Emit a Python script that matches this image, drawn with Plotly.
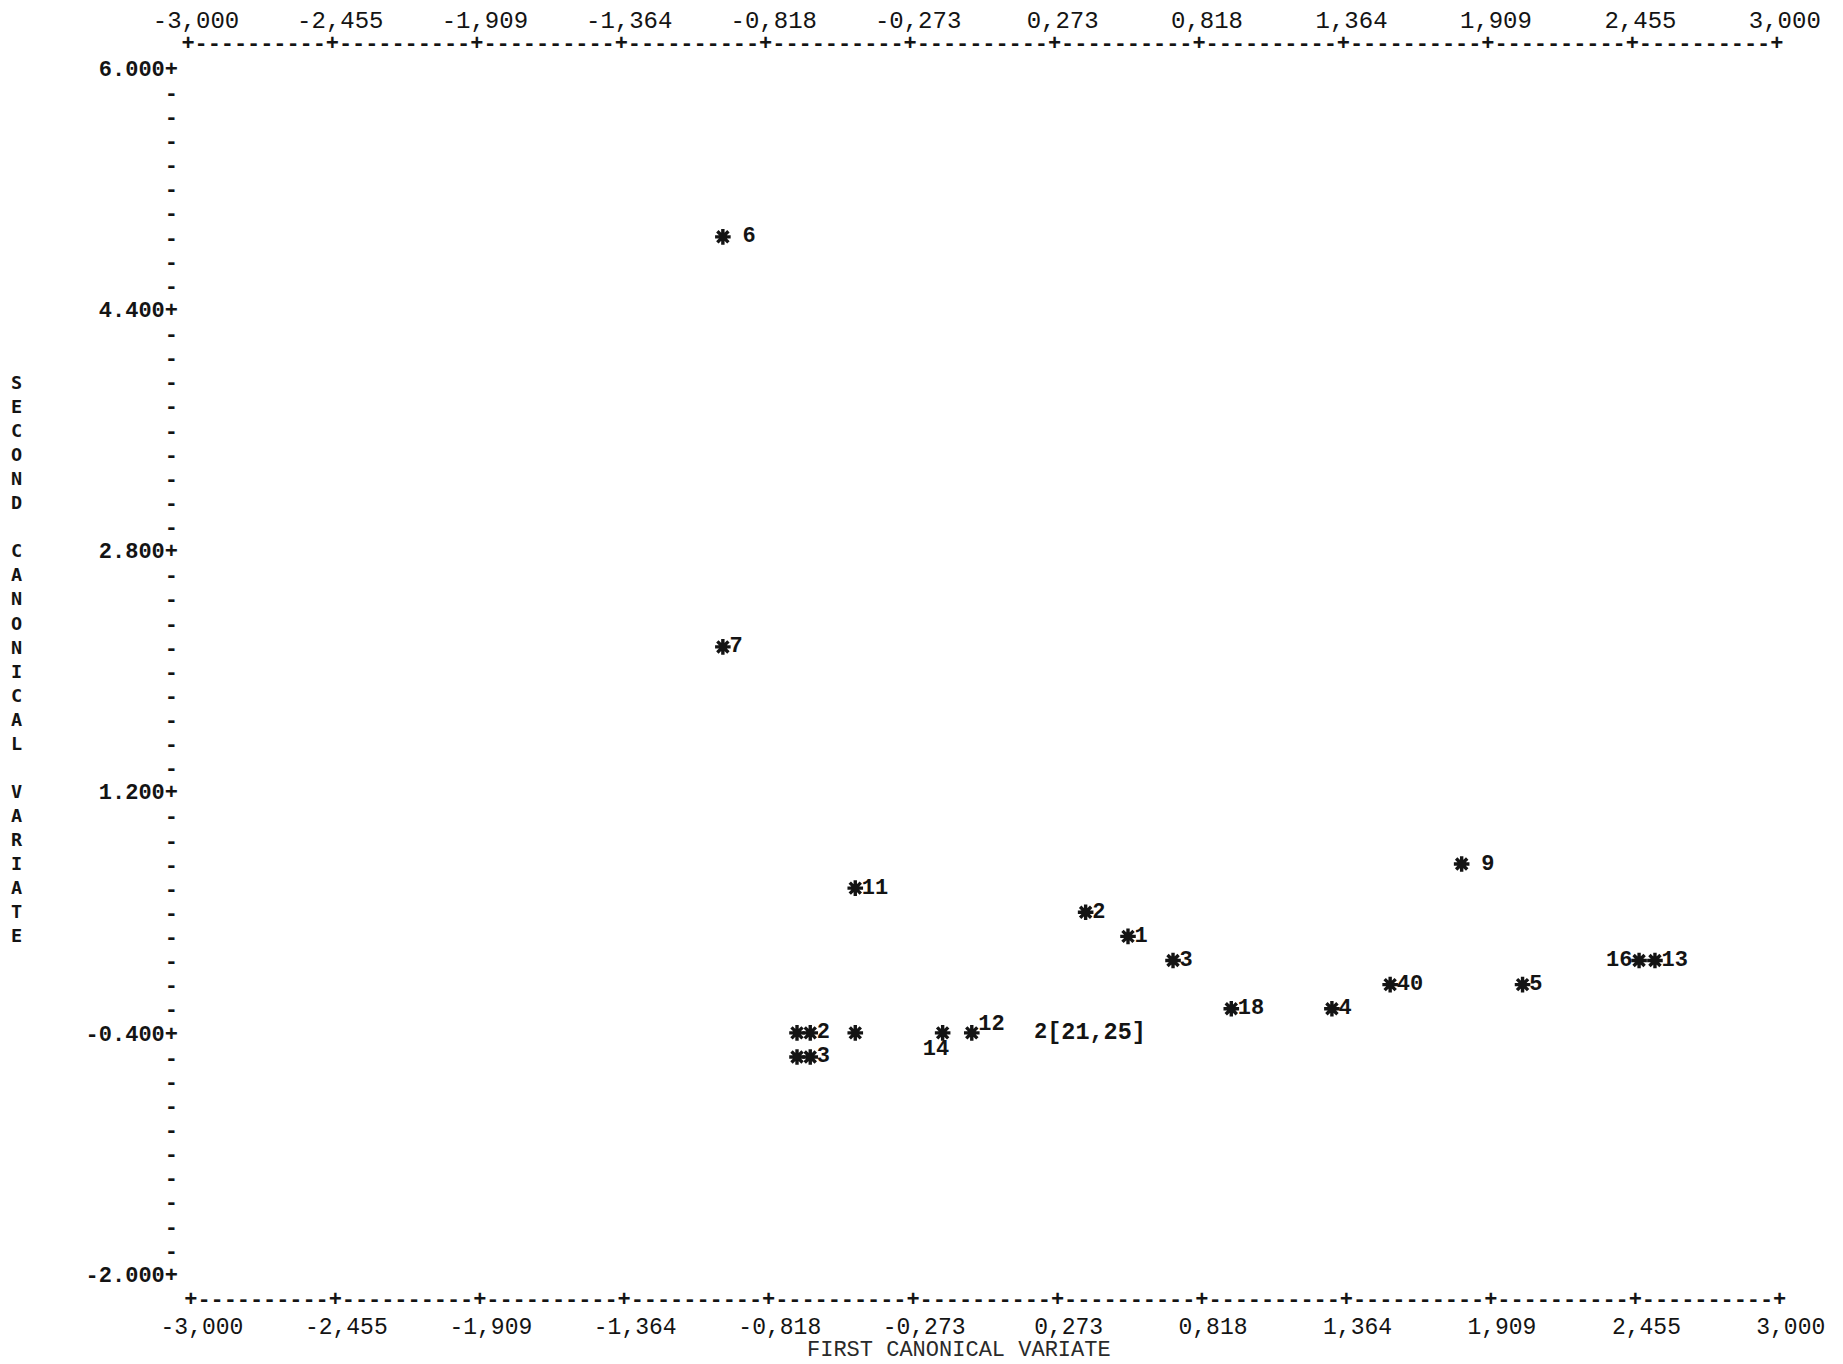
import plotly.graph_objects as go

# ---- group means on the first two canonical variates ----
group_x = [-0.98, -0.98, -0.48, 0.39, 0.55, 0.72, 0.94, 1.32, 1.54, 1.81, 2.04, 2.48, 2.54,
           -0.70, -0.65, -0.48, -0.15, -0.04, -0.70, -0.65]
group_y = [4.88, 2.16, 0.56, 0.40, 0.24, 0.08, -0.24, -0.24, -0.08, 0.72, -0.08, 0.08, 0.08,
           -0.40, -0.40, -0.40, -0.40, -0.40, -0.56, -0.56]
group_label = ["6", "7", "11", "2", "1", "3", "18", "4", "40", "9", "5", "16", "13",
               "", "2", "", "14", "12", "", "3"]

# two groups printed on the same position (count symbol + their numbers)
shared_x = [0.22]
shared_y = [-0.40]
shared_count = ["2"]
shared_label = ["[21,25]"]

# axis scales
x_ticks = [-3.000, -2.455, -1.909, -1.364, -0.818, -0.273, 0.273, 0.818, 1.364, 1.909, 2.455, 3.000]
x_ticktext = ["-3,000", "-2,455", "-1,909", "-1,364", "-0,818", "-0,273",
              "0,273", "0,818", "1,364", "1,909", "2,455", "3,000"]
y_major = [6.000, 4.400, 2.800, 1.200, -0.400, -2.000]
y_major_text = ["6.000", "4.400", "2.800", "1.200", "-0.400", "-2.000"]

# ---- line-printer grid and page geometry ----
COLS_PER_TICK = 11  # printer columns between labelled x ticks
ROWS_PER_TICK = 10  # printer lines between labelled y ticks
COL = (x_ticks[-1] - x_ticks[0]) / (COLS_PER_TICK * (len(x_ticks) - 1))
ROW = (y_major[0] - y_major[-1]) / (ROWS_PER_TICK * (len(y_major) - 1))
W, H = 1843, 1364
M_L, M_R, M_T, M_B = 184, 40, 34, 55
PX_X = 264.8        # pixels per x unit
PX_Y = 150.76       # pixels per y unit
x_range = [-3.015, -3.015 + (W - M_L - M_R) / PX_X]
y_top = 6.0 + 34 / PX_Y
y_range = [y_top - (H - M_T - M_B) / PX_Y, y_top]

MONO = "Liberation Mono"
INK = "#141414"


def paper_x(v):
    return (v - x_range[0]) / (x_range[1] - x_range[0])


def paper_y(v):
    return (v - y_range[0]) / (y_range[1] - y_range[0])


# label placement around each mark, in printer cells
label_side = ["right"] * 11 + ["left", "right", "right", "right", "right", "below", "right", "right", "right"]
label_gap = [1, 0, 0, 0, 0, 0, 0, 0, 0, 1, 0, 0, 0, 0, 0, 0, 0, 0, 0, 0]
label_rise = [0] * 16 + [-0.7, 0.35, 0, 0]

lab_x, lab_y, lab_pos = [], [], []
for x, y, side, gap, rise in zip(group_x, group_y, label_side, label_gap, label_rise):
    if side == "right":
        lab_x.append(x + (0.5 + gap) * COL)
        lab_pos.append("middle right")
    elif side == "left":
        lab_x.append(x - (0.5 + gap) * COL)
        lab_pos.append("middle left")
    else:  # printed on the next line, ending under the mark
        lab_x.append(x + 0.5 * COL)
        lab_pos.append("middle left")
    lab_y.append(y + rise * ROW)

# y axis: "+" at labelled values, "-" on every printer line in between
y_tickvals, y_ticktext = [], []
for k in range(len(y_major)):
    y_tickvals.append(y_major[k])
    y_ticktext.append(y_major_text[k] + "+")
    if k < len(y_major) - 1:
        for r in range(1, ROWS_PER_TICK):
            y_tickvals.append(y_major[k] - r * ROW)
            y_ticktext.append("-")

# x rules above and below the field: one printer cell per column,
# "+" on each tick column and "-" in between
n_cols = COLS_PER_TICK * (len(x_ticks) - 1) + 1
rule_x = [x_ticks[0] + i * COL for i in range(n_cols)]
rule_ch = ["+" if i % COLS_PER_TICK == 0 else "-" for i in range(n_cols)]
TOP_RULE_Y = y_major[0] + ROW - 0.007      # paper feed slack around the frame rows
BOTTOM_RULE_Y = y_major[-1] - ROW - 0.018
BOTTOM_SKEW = 0.011                        # lower frame row sits slightly to the right

fig = go.Figure()

# printed frame rows
fig.add_trace(go.Scatter(
    x=rule_x, y=[TOP_RULE_Y] * n_cols, mode="text", text=rule_ch, xaxis="x2",
    textfont=dict(family=MONO, size=22, color=INK, weight=700),
    cliponaxis=False, hoverinfo="skip", showlegend=False))
fig.add_trace(go.Scatter(
    x=[v + BOTTOM_SKEW for v in rule_x], y=[BOTTOM_RULE_Y] * n_cols, mode="text", text=rule_ch,
    textfont=dict(family=MONO, size=22, color=INK, weight=700),
    cliponaxis=False, hoverinfo="skip", showlegend=False))

# group marks
fig.add_trace(go.Scatter(
    x=group_x, y=group_y, mode="markers",
    marker=dict(symbol="asterisk-open", size=13, color=INK, line=dict(width=3.4, color=INK)),
    cliponaxis=False, showlegend=False))

# group numbers
fig.add_trace(go.Scatter(
    x=lab_x, y=lab_y, mode="text", text=group_label, textposition=lab_pos,
    textfont=dict(family=MONO, size=22, color=INK, weight=700),
    cliponaxis=False, hoverinfo="skip", showlegend=False))

# coincident groups: count symbol and the group numbers
fig.add_trace(go.Scatter(
    x=shared_x, y=shared_y, mode="text", text=shared_count, textposition="middle center",
    textfont=dict(family=MONO, size=22, color=INK, weight=700),
    cliponaxis=False, hoverinfo="skip", showlegend=False))
fig.add_trace(go.Scatter(
    x=[v + 0.5 * COL for v in shared_x], y=shared_y, mode="text", text=shared_label,
    textposition="middle right",
    textfont=dict(family=MONO, size=23.5, color=INK, weight=700),
    cliponaxis=False, hoverinfo="skip", showlegend=False))

axis_common = dict(showgrid=False, zeroline=False, showline=False, ticks="", automargin=False)

fig.update_layout(
    width=W, height=H,
    margin=dict(l=M_L, r=M_R, t=M_T, b=M_B, pad=0, autoexpand=False),
    paper_bgcolor="white", plot_bgcolor="white",
    xaxis=dict(range=x_range, tickmode="array", tickvals=x_ticks, ticktext=x_ticktext,
               tickangle=0, ticklabelstandoff=1, ticklabelshift=14,
               tickfont=dict(family=MONO, size=23, color=INK), **axis_common),
    xaxis2=dict(range=x_range, overlaying="x", matches="x", side="top", tickmode="array",
                tickvals=x_ticks, ticktext=x_ticktext, tickangle=0, ticklabelstandoff=0,
                ticklabelshift=8,
                tickfont=dict(family=MONO, size=24, color=INK), **axis_common),
    yaxis=dict(range=y_range, tickmode="array", tickvals=y_tickvals, ticktext=y_ticktext,
               ticklabelstandoff=5,
               tickfont=dict(family=MONO, size=22, color=INK, weight=700), **axis_common),
    annotations=[
        dict(text="<br>".join("SECOND CANONICAL VARIATE"), xref="paper", yref="paper",
             x=paper_x(-3.645), y=paper_y(y_major[0] - 24.5 * ROW), showarrow=False,
             xanchor="center", yanchor="middle", align="center",
             font=dict(family="DejaVu Sans Mono", size=18.5, color=INK, weight=700)),
        dict(text="FIRST CANONICAL VARIATE", xref="paper", yref="paper",
             x=paper_x(-0.09), y=paper_y(-2.51), showarrow=False,
             xanchor="center", yanchor="middle",
             font=dict(family=MONO, size=22, color="#2a2a2a")),
    ],
)

fig.write_html("out.html")
